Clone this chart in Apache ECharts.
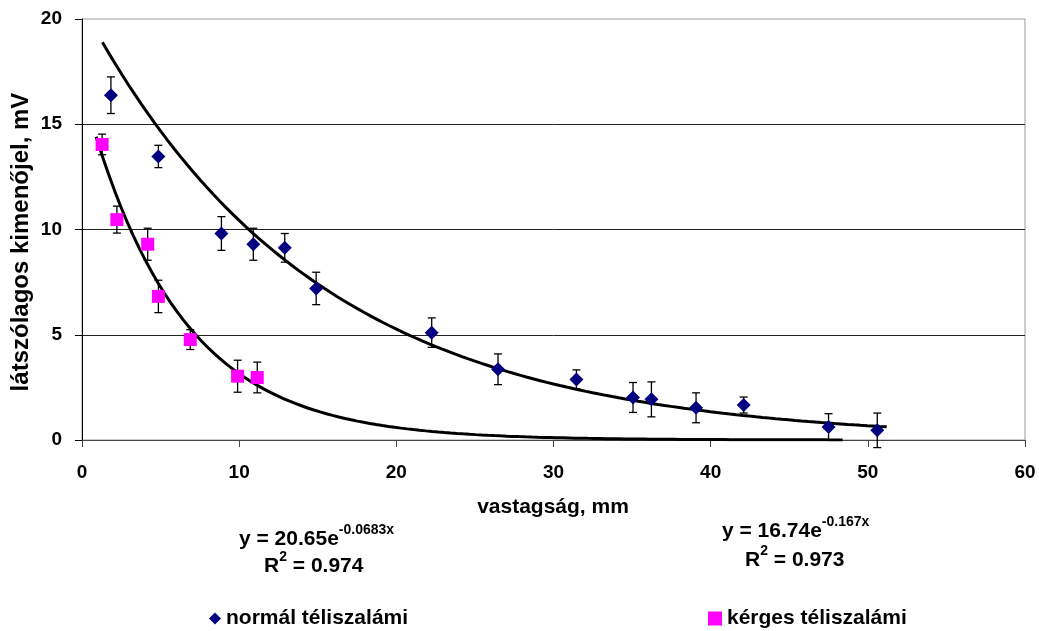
<!DOCTYPE html>
<html>
<head>
<meta charset="utf-8">
<script src="https://cdn.jsdelivr.net/npm/echarts@6/dist/echarts.min.js"></script>
<style>
  html, body { margin: 0; padding: 0; background: #fff; }
  #chart { width: 1039px; height: 631px; }
</style>
</head>
<body>
<div id="chart"></div>
<script>
// normál téliszalámi: x, y, +/- hiba
const normalX = [1.84, 4.86, 8.87, 10.9, 12.9, 14.9, 22.25, 26.47, 31.46, 35.06, 36.23, 39.07, 42.1, 47.5, 50.6];
const normalY = [16.38, 13.47, 9.81, 9.30, 9.13, 7.20, 5.10, 3.36, 2.88, 2.02, 1.93, 1.53, 1.66, 0.62, 0.46];
const normalErr = [0.87, 0.53, 0.80, 0.76, 0.68, 0.77, 0.70, 0.73, 0.45, 0.71, 0.83, 0.71, 0.38, 0.63, 0.82];

// kérges téliszalámi
const kergesX = [1.28, 2.22, 4.18, 4.86, 6.89, 9.9, 11.15];
const kergesY = [14.04, 10.47, 9.30, 6.82, 4.77, 3.03, 2.97];
const kergesErr = [0.49, 0.64, 0.76, 0.77, 0.47, 0.76, 0.73];

// trendvonalak: y = a*e^(b*x), x tartomány
const normalTrend = [20.65, -0.0683];
const normalTrendRange = [1.3, 51.2];
const kergesTrend = [16.74, -0.167];
const kergesTrendRange = [0.9, 48.4];

const xTicks = [0, 60, 10];
const yTicks = [0, 20, 5];

const seriesNames = ['normál téliszalámi', 'kérges téliszalámi'];

const FONT = '"Liberation Sans", Arial, sans-serif';
const MAIN_FONT = 'bold 21px ' + FONT;
const SUP_FONT = 'bold 14px ' + FONT;

function points(xs, ys) {
  return xs.map((x, i) => [x, ys[i]]);
}
function errPoints(xs, ys, es) {
  return xs.map((x, i) => [x, ys[i], es[i]]);
}
function trendPoints(coef, range) {
  const out = [];
  const n = 120;
  for (let i = 0; i <= n; i++) {
    const x = range[0] + (range[1] - range[0]) * i / n;
    out.push([x, coef[0] * Math.exp(coef[1] * x)]);
  }
  return out;
}

function errorBar(params, api) {
  const x = api.value(0), y = api.value(1), e = api.value(2);
  const top = api.coord([x, y + e]);
  const bot = api.coord([x, y - e]);
  const cap = 4;
  const style = { stroke: '#000', lineWidth: 1.3 };
  return {
    type: 'group',
    children: [
      { type: 'line', shape: { x1: top[0], y1: top[1], x2: bot[0], y2: bot[1] }, style },
      { type: 'line', shape: { x1: top[0] - cap, y1: top[1], x2: top[0] + cap, y2: top[1] }, style },
      { type: 'line', shape: { x1: bot[0] - cap, y1: bot[1], x2: bot[0] + cap, y2: bot[1] }, style }
    ]
  };
}

// egyenlet darabokból: [szöveg, felső index?]
const measureCtx = document.createElement('canvas').getContext('2d');
function textWidth(text, font) {
  measureCtx.font = font;
  return measureCtx.measureText(text).width;
}
function eqText(left, cy, parts) {
  const els = [];
  let x = left;
  parts.forEach(([text, sup]) => {
    const font = sup ? SUP_FONT : MAIN_FONT;
    els.push({
      type: 'text', x: x, y: sup ? cy - 9 : cy,
      style: { text, font, fill: '#000', align: 'left', verticalAlign: 'middle' }
    });
    x += textWidth(text, font);
  });
  return els;
}

const chart = echarts.init(document.getElementById('chart'));

const option = {
  animation: false,
  backgroundColor: '#fff',
  textStyle: { fontFamily: FONT },
  grid: {
    left: 82, right: 14, top: 19, bottom: 191,
    show: true, borderColor: '#999', borderWidth: 1
  },
  legend: [
    {
      data: [{ name: seriesNames[0], icon: 'diamond' }],
      left: 204, top: 603,
      itemWidth: 12, itemHeight: 12,
      textStyle: { fontFamily: FONT, fontWeight: 'bold', fontSize: 21, color: '#000' }
    },
    {
      data: [{ name: seriesNames[1], icon: 'rect' }],
      left: 703, top: 603,
      itemWidth: 14, itemHeight: 14,
      textStyle: { fontFamily: FONT, fontWeight: 'bold', fontSize: 21, color: '#000' }
    }
  ],
  xAxis: {
    type: 'value',
    min: xTicks[0], max: xTicks[1], interval: xTicks[2],
    axisLine: { lineStyle: { color: '#444', width: 1 } },
    axisTick: { show: true, inside: false, length: 7, lineStyle: { color: '#444' } },
    axisLabel: { margin: 23, fontSize: 19, fontWeight: 'bold', color: '#000', fontFamily: FONT },
    splitLine: { show: false }
  },
  yAxis: {
    type: 'value',
    min: yTicks[0], max: yTicks[1], interval: yTicks[2],
    axisLine: { show: true, lineStyle: { color: '#000', width: 1 } },
    axisTick: { show: true, inside: false, length: 7, lineStyle: { color: '#000' } },
    axisLabel: { margin: 20, fontSize: 19, fontWeight: 'bold', color: '#000', fontFamily: FONT },
    splitLine: { show: true, showMaxLine: false, lineStyle: { color: '#222', width: 1 } }
  },
  graphic: [
    {
      type: 'text', x: 21, y: 242, rotation: Math.PI / 2,
      style: {
        text: 'látszólagos kimenőjel, mV',
        font: 'bold 24px ' + FONT, fill: '#000',
        align: 'center', verticalAlign: 'middle'
      }
    },
    {
      type: 'text', x: 553, y: 507,
      style: {
        text: 'vastagság, mm',
        font: 'bold 21px ' + FONT, fill: '#000',
        align: 'center', verticalAlign: 'middle'
      }
    },
    ...eqText(239, 539, [['y = 20.65e', false], ['-0.0683x', true]]),
    ...eqText(264, 566, [['R', false], ['2', true], [' = 0.974', false]]),
    ...eqText(722, 531, [['y = 16.74e', false], ['-0.167x', true]]),
    ...eqText(745, 560, [['R', false], ['2', true], [' = 0.973', false]])
  ],
  series: [
    {
      name: 'normal trend',
      type: 'line',
      data: trendPoints(normalTrend, normalTrendRange),
      showSymbol: false,
      lineStyle: { color: '#000', width: 3 },
      silent: true, z: 1
    },
    {
      name: 'kerges trend',
      type: 'line',
      data: trendPoints(kergesTrend, kergesTrendRange),
      showSymbol: false,
      lineStyle: { color: '#000', width: 3 },
      silent: true, z: 1
    },
    {
      name: 'normal err',
      type: 'custom',
      renderItem: errorBar,
      data: errPoints(normalX, normalY, normalErr),
      encode: { x: 0, y: 1 },
      z: 2
    },
    {
      name: 'kerges err',
      type: 'custom',
      renderItem: errorBar,
      data: errPoints(kergesX, kergesY, kergesErr),
      encode: { x: 0, y: 1 },
      z: 2
    },
    {
      name: seriesNames[0],
      type: 'scatter',
      symbol: 'diamond',
      symbolSize: 14,
      itemStyle: { color: '#000080', opacity: 1 },
      data: points(normalX, normalY),
      z: 3
    },
    {
      name: seriesNames[1],
      type: 'scatter',
      symbol: 'rect',
      symbolSize: 13,
      itemStyle: { color: '#FF00FF', opacity: 1 },
      data: points(kergesX, kergesY),
      z: 3
    }
  ]
};

chart.setOption(option);
</script>
</body>
</html>
